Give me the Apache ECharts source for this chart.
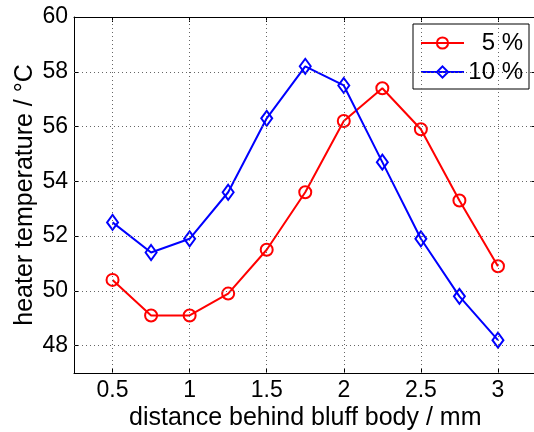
<!DOCTYPE html>
<html>
<head>
<meta charset="utf-8">
<script src="https://cdn.jsdelivr.net/npm/echarts@6/dist/echarts.min.js"></script>
<style>html,body{margin:0;padding:0;background:#fff}#c{width:534px;height:432px}</style>
</head>
<body>
<div id="c"></div>
<script>
var distances = [0.5, 0.75, 1.0, 1.25, 1.5, 1.75, 2.0, 2.25, 2.5, 2.75, 3.0];
var temp5 = [50.4, 49.1, 49.1, 49.9, 51.5, 53.6, 56.2, 57.4, 55.9, 53.3, 50.9];
var temp10 = [52.5, 51.4, 51.9, 53.6, 56.3, 58.2, 57.5, 54.7, 51.9, 49.8, 48.2];
var seriesNames = ['5 %', '10 %'];
var xTicks = [0.5, 1, 1.5, 2, 2.5, 3];
var yTicks = [48, 50, 52, 54, 56, 58, 60];

var FONT = 'Liberation Sans, Arial, Helvetica, sans-serif';
function pairs(xs, ys) { return xs.map(function (x, i) { return [x, ys[i]]; }); }

var chart = echarts.init(document.getElementById('c'), null, {renderer: 'canvas'});
chart.setOption({
  animation: false,
  backgroundColor: '#fff',
  grid: {left: 74, right: -2.5, top: 17, bottom: 59, containLabel: false, outerBoundsMode: 'none'},
  legend: {
    right: 5, top: 24,
    orient: 'vertical',
    backgroundColor: '#fff',
    borderColor: '#000', borderWidth: 1,
    padding: [7, 6, 5, 7],
    itemGap: 5,
    itemWidth: 43, itemHeight: 14,
    formatter: function (n) { return '{a|' + n + '}'; },
    textStyle: {
      fontFamily: FONT, fontSize: 24, color: '#000',
      rich: {a: {fontFamily: FONT, fontSize: 24, color: '#000', width: 54, align: 'right', lineHeight: 24}}
    },
    data: seriesNames
  },
  xAxis: [{
    type: 'value', min: 0.25, max: 3.25, interval: 0.25,
    name: 'distance behind bluff body / mm', nameLocation: 'middle', nameGap: 33,
    nameMoveOverlap: false,
    nameTextStyle: {fontFamily: FONT, fontSize: 25, color: '#000'},
    axisLine: {show: true, lineStyle: {color: '#000', width: 1}},
    axisTick: {show: true, inside: true, length: 5, lineStyle: {color: '#000'},
      customValues: xTicks},
    axisLabel: {fontFamily: FONT, fontSize: 23, color: '#000', margin: 6,
      customValues: xTicks,
      formatter: function (v) { return String(v); }},
    splitLine: {show: false}
  }, {
    type: 'value', min: 0.25, max: 3.25, position: 'top',
    axisLine: {show: true, onZero: false, lineStyle: {color: '#000', width: 1}},
    axisTick: {show: true, inside: true, length: 5, lineStyle: {color: '#000'}, customValues: xTicks},
    axisLabel: {show: false},
    splitLine: {show: false}
  }],
  yAxis: [{
    type: 'value', min: 47, max: 60, interval: 1,
    name: 'heater temperature / °C', nameLocation: 'middle', nameGap: 36, nameRotate: 90,
    nameMoveOverlap: false,
    nameTextStyle: {fontFamily: FONT, fontSize: 25, color: '#000'},
    axisLine: {show: true, lineStyle: {color: '#000', width: 1}},
    axisTick: {show: true, inside: true, length: 5, lineStyle: {color: '#000'}, customValues: yTicks},
    axisLabel: {fontFamily: FONT, fontSize: 23, color: '#000', margin: 6, customValues: yTicks},
    splitLine: {show: false}
  }, {
    type: 'value', min: 47, max: 60, position: 'right',
    axisLine: {show: true, onZero: false, lineStyle: {color: '#000', width: 1}},
    axisTick: {show: true, inside: true, length: 5, lineStyle: {color: '#000'}, customValues: yTicks},
    axisLabel: {show: false},
    splitLine: {show: false}
  }],
  series: [{
    name: seriesNames[0], type: 'line',
    data: pairs(distances, temp5),
    symbol: 'circle', symbolSize: 12,
    lineStyle: {color: '#ff0000', width: 2},
    itemStyle: {color: 'rgba(255,255,255,0)', borderColor: '#ff0000', borderWidth: 2},
    markLine: {
      silent: true, symbol: 'none', label: {show: false},
      lineStyle: {color: '#666', type: [1, 3], width: 1},
      data: xTicks.map(function (v) { return {xAxis: v}; }).concat(
        yTicks.slice(0, -1).map(function (v) { return {yAxis: v}; }))
    },
    z: 3
  }, {
    name: seriesNames[1], type: 'line',
    data: pairs(distances, temp10),
    symbol: 'diamond', symbolSize: [11, 15],
    lineStyle: {color: '#0000ff', width: 2},
    itemStyle: {color: 'rgba(255,255,255,0)', borderColor: '#0000ff', borderWidth: 2},
    z: 4
  }]
});
</script>
</body>
</html>
